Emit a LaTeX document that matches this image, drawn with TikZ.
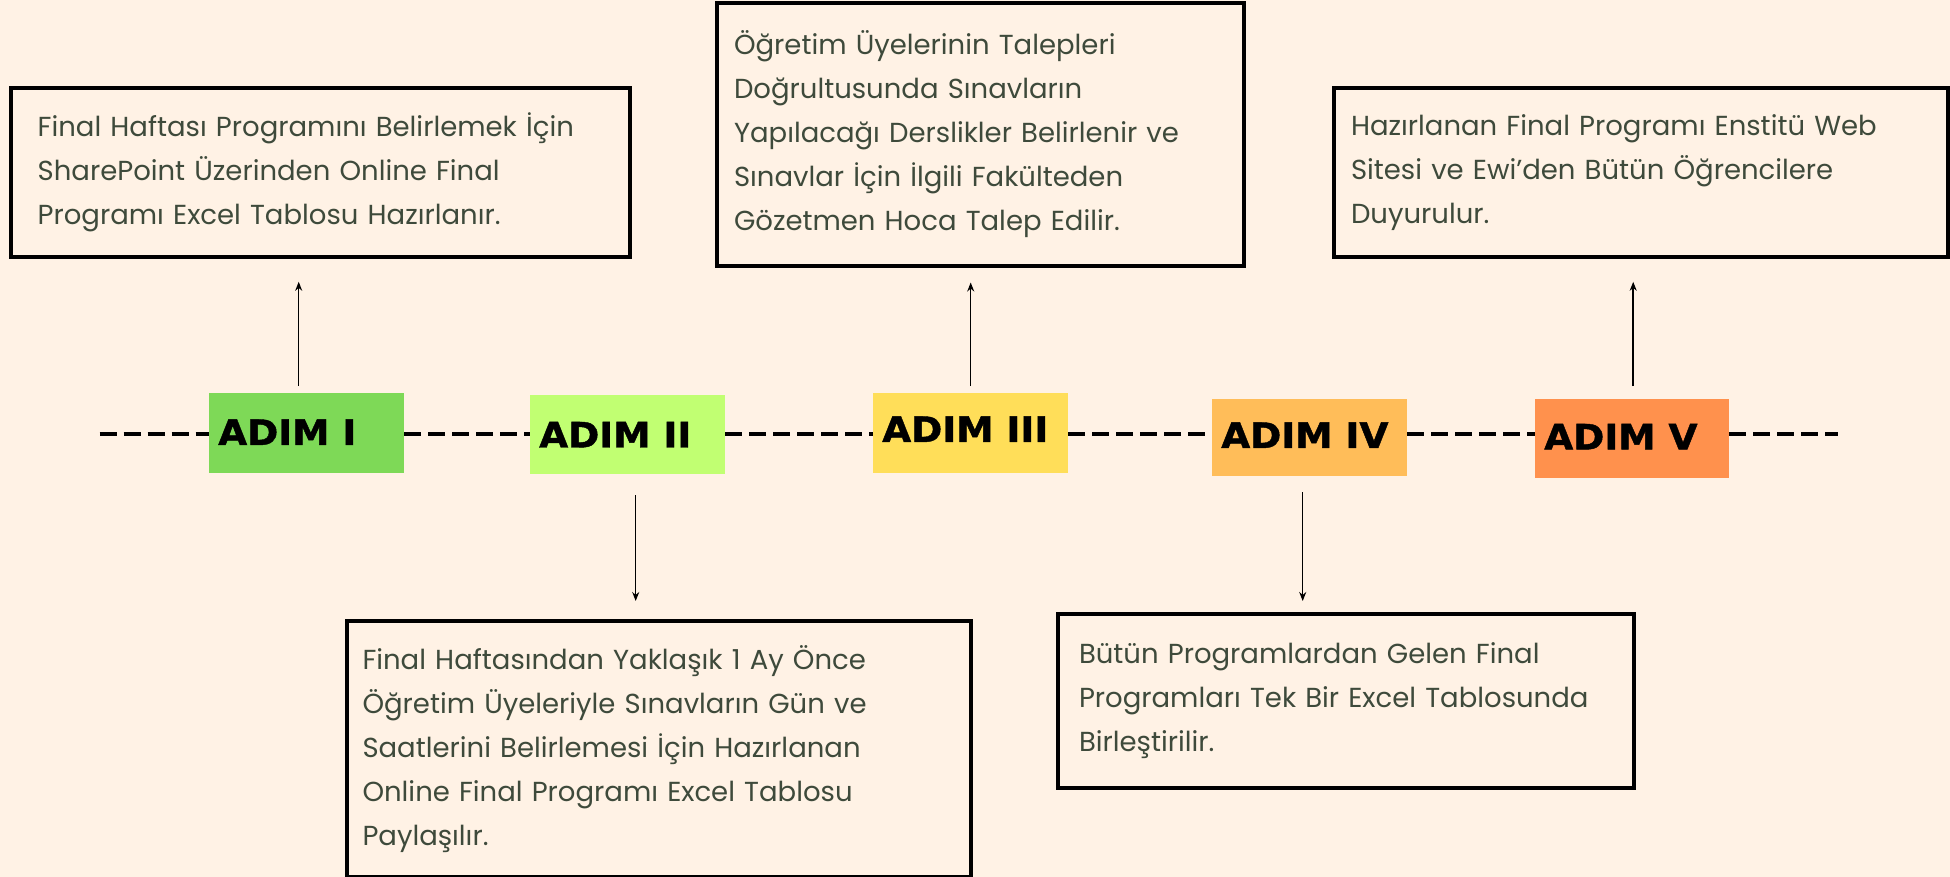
\documentclass[tikz,border=0pt]{standalone}
\usepackage{fontspec}
\setmainfont{Poppins}
\newfontfamily\adimfont[FakeBold=1.2]{DejaVu Sans}
\usetikzlibrary{arrows.meta,calc}
\definecolor{bgc}{HTML}{FFF2E5}
\definecolor{txt}{HTML}{3E4A3B}
\definecolor{cI}{HTML}{7ED957}
\definecolor{cII}{HTML}{C1FF72}
\definecolor{cIII}{HTML}{FFDE59}
\definecolor{cIV}{HTML}{FFBD59}
\definecolor{cV}{HTML}{FF914D}
\tikzset{
  infobox/.style={draw=black, line width=4pt, fill=bgc, anchor=north west, align=left,
    text=txt, font=\fontsize{27.5}{44}\selectfont, inner ysep=0pt},
  adimbox/.style={anchor=north west, inner sep=0pt},
  adimlbl/.style={anchor=west, inner sep=0pt, xscale=1.07, font=\adimfont\bfseries\fontsize{35}{38}\selectfont, text=black},
  dline/.style={line width=3.8pt, dash pattern=on 17pt off 7pt},
  conn/.style={line width=1.5pt, -{Stealth[length=9pt,width=7pt]}}
}
\begin{document}
\begin{tikzpicture}[x=1pt,y=-1pt]
\fill[bgc] (0,0) rectangle (1950,877);
\useasboundingbox (0,0) rectangle (1950,877);
% ADIM boxes
\node[adimbox, fill=cI, minimum width=195pt, minimum height=80pt] (a1) at (209,393) {};
\node[adimbox, fill=cII, minimum width=195pt, minimum height=79pt] (a2) at (530,395) {};
\node[adimbox, fill=cIII, minimum width=195pt, minimum height=80pt] (a3) at (873,393) {};
\node[adimbox, fill=cIV, minimum width=195pt, minimum height=77pt] (a4) at (1212,399) {};
\node[adimbox, fill=cV, minimum width=194pt, minimum height=79pt] (a5) at (1535,399) {};
\node[adimlbl] (l1) at ([xshift=9pt,yshift=1pt]a1.west) {ADIM I};
\node[adimlbl] (l2) at ([xshift=9pt,yshift=0pt]a2.west) {ADIM II};
\node[adimlbl] (l3) at ([xshift=9pt,yshift=4pt]a3.west) {ADIM III};
\node[adimlbl] (l4) at ([xshift=9pt,yshift=2.5pt]a4.west) {ADIM IV};
\node[adimlbl] (l5) at ([xshift=9pt,yshift=2pt]a5.west) {ADIM V};
% dashed timeline
\coordinate (ls) at (99.5,434);
\coordinate (le) at (1838,434);
\draw[dline] (ls) -- (ls -| a1.west);
\draw[dline] (a1.east |- ls) -- (a2.west |- ls);
\draw[dline] (a2.east |- ls) -- (a3.west |- ls);
\draw[dline] (a3.east |- ls) -- (a4.west |- ls);
\draw[dline] (a4.east |- ls) -- (a5.west |- ls);
\draw[dline] (a5.east |- ls) -- (le);
% info boxes
\node[infobox, text width=565pt, inner xsep=27pt, minimum height=169pt] (b1) at (8.7,85.8)
 {Final Haftası Programını Belirlemek İçin\\SharePoint Üzerinden Online Final\\Programı Excel Tablosu Hazırlanır.};
\node[infobox, text width=493pt, inner xsep=17pt, minimum height=262pt] (b3) at (715,1.5)
 {Öğretim Üyelerinin Talepleri\\Doğrultusunda Sınavların\\Yapılacağı Derslikler Belirlenir ve\\Sınavlar İçin İlgili Fakülteden\\Gözetmen Hoca Talep Edilir.};
\node[infobox, text width=580pt, inner xsep=17pt, minimum height=169pt] (b5) at (1332,85.8)
 {Hazırlanan Final Programı Enstitü Web\\Sitesi ve Ewi{\char39}den Bütün Öğrencilere\\Duyurulur.};
\node[infobox, text width=592pt, inner xsep=16pt, minimum height=256pt] (b2) at (344.5,619)
 {Final Haftasından Yaklaşık 1 Ay Önce\\Öğretim Üyeleriyle Sınavların Gün ve\\Saatlerini Belirlemesi İçin Hazırlanan\\Online Final Programı Excel Tablosu\\Paylaşılır.};
\node[infobox, text width=534pt, inner xsep=21pt, minimum height=174pt] (b4) at (1056,612)
 {Bütün Programlardan Gelen Final\\Programları Tek Bir Excel Tablosunda\\Birleştirilir.};
% connectors
\draw[conn, shorten <=7pt, shorten >=23pt] ([xshift=-8pt]a1.north) -- ([xshift=-8pt]a1.north |- b1.south);
\draw[conn, shorten <=21pt, shorten >=18pt] ([xshift=8pt]a2.south) -- ([xshift=8pt]a2.south |- b2.north);
\draw[conn, shorten <=7pt, shorten >=15pt] (a3.north) -- (a3.north |- b3.south);
\draw[conn, shorten <=16pt, shorten >=11pt] ([xshift=-7pt]a4.south) -- ([xshift=-7pt]a4.south |- b4.north);
\draw[conn, shorten <=13pt, shorten >=23pt] ([xshift=1pt]a5.north) -- ([xshift=1pt]a5.north |- b5.south);
\end{tikzpicture}
\end{document}
